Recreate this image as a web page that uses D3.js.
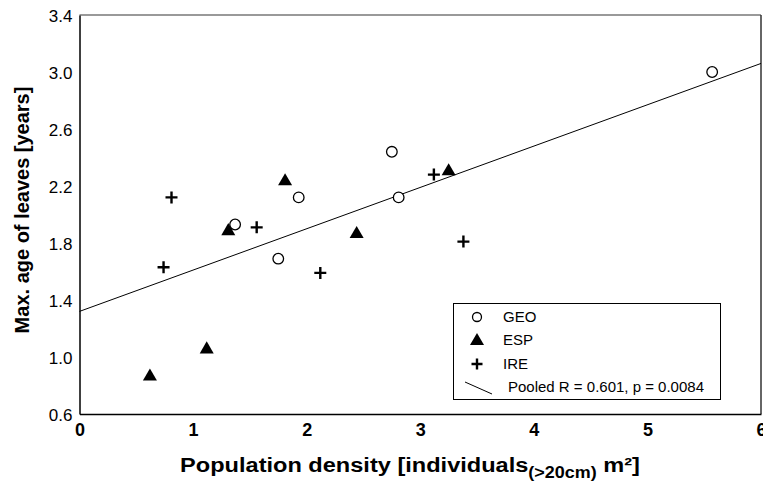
<!DOCTYPE html>
<html>
<head>
<meta charset="utf-8" />
<style>
    body { margin: 0; background: #fff; }
    svg { display: block; }
    .ytick text { font: 17px "Liberation Sans", Arial, sans-serif; fill: #000; }
    .xtick text { font: bold 18px "Liberation Sans Narrow", "Arial Narrow", "Liberation Sans", sans-serif; fill: #000; }
    .legend text { font: 15px "Liberation Sans", Arial, sans-serif; fill: #000; }
</style>
</head>
<body>
<svg width="763" height="484"></svg>
<script src="https://d3js.org/d3.v7.min.js"></script>
<script>
// data: [density, max age]
var geo = [[1.37, 1.93], [1.93, 2.12], [1.75, 1.69], [2.75, 2.44], [2.81, 2.12], [5.57, 3.00]];
var esp = [[0.62, 0.87], [1.12, 1.06], [1.31, 1.89], [1.81, 2.24], [2.44, 1.87], [3.25, 2.31]];
var ire = [[0.81, 2.12], [1.56, 1.91], [0.74, 1.63], [2.12, 1.59], [3.12, 2.28], [3.38, 1.81]];
// pooled regression line, ends read at x = 0 and x = 6
var fitX = [0, 6];
var fitY = [1.32, 3.06];
var xTicks = [0, 1, 2, 3, 4, 5, 6];
var yTicks = [0.6, 1.0, 1.4, 1.8, 2.2, 2.6, 3.0, 3.4];
var legendLabels = ["GEO", "ESP", "IRE", "Pooled R = 0.601, p = 0.0084"];

var svg = d3.select("svg");
var margin = { top: 15, right: 2, bottom: 70, left: 79.5 };
var width = 763 - margin.left - margin.right;
var height = 484 - margin.top - margin.bottom;

var x = d3.scaleLinear().domain([0, 6]).range([margin.left, margin.left + width]);
var y = d3.scaleLinear().domain([0.6, 3.4]).range([margin.top + height, margin.top]);

// frame: top/right grey, left/bottom black
svg.append("line").attr("x1", x(0)).attr("x2", x(6)).attr("y1", y(3.4)).attr("y2", y(3.4))
    .attr("stroke", "#777").attr("stroke-width", 1.5);
svg.append("line").attr("x1", x(6)).attr("x2", x(6)).attr("y1", y(3.4)).attr("y2", y(0.6))
    .attr("stroke", "#333").attr("stroke-width", 1.5);

// axes
var yAxis = svg.append("g").attr("class", "ytick")
    .attr("transform", "translate(" + x(0) + ",0)")
    .call(d3.axisLeft(y).tickValues(yTicks).tickFormat(d3.format(".1f")).tickSize(0).tickPadding(7));
var xAxis = svg.append("g").attr("class", "xtick")
    .attr("transform", "translate(0," + y(0.6) + ")")
    .call(d3.axisBottom(x).tickValues(xTicks).tickFormat(d3.format("d")).tickSize(0).tickPadding(9));
svg.selectAll(".domain").attr("stroke", "#000").attr("stroke-width", 1.5);
yAxis.selectAll("text").attr("dy", "0.4em");

// regression line
svg.append("line")
    .attr("x1", x(fitX[0])).attr("y1", y(fitY[0]))
    .attr("x2", x(fitX[1])).attr("y2", y(fitY[1]))
    .attr("stroke", "#000").attr("stroke-width", 1);

var tri = d3.symbol().type(d3.symbolTriangle).size(85);
function plus(s) { return "M" + (-s) + ",0H" + s + "M0," + (-s) + "V" + s; }

// GEO circles
svg.append("g").selectAll("circle").data(geo).enter().append("circle")
    .attr("cx", d => x(d[0])).attr("cy", d => y(d[1])).attr("r", 5.3)
    .attr("fill", "#fff").attr("stroke", "#000").attr("stroke-width", 1.3);
// ESP triangles
svg.append("g").selectAll("path").data(esp).enter().append("path")
    .attr("d", tri).attr("transform", d => "translate(" + x(d[0]) + "," + (y(d[1]) + 1) + ")")
    .attr("fill", "#000");
// IRE crosses
svg.append("g").selectAll("path").data(ire).enter().append("path")
    .attr("d", plus(6)).attr("transform", d => "translate(" + x(d[0]) + "," + y(d[1]) + ")")
    .attr("stroke", "#000").attr("stroke-width", 2.4).attr("fill", "none");

// legend
var lg = svg.append("g").attr("class", "legend");
lg.append("rect").attr("x", 453.5).attr("y", 303.5).attr("width", 267).attr("height", 96)
    .attr("fill", "#fff").attr("stroke", "#000").attr("stroke-width", 1);
var rows = [317, 340, 364, 387];
lg.append("circle").attr("cx", 477).attr("cy", rows[0]).attr("r", 4.5)
    .attr("fill", "#fff").attr("stroke", "#000").attr("stroke-width", 1.3);
lg.append("path").attr("d", tri).attr("transform", "translate(477," + (rows[1] + 1) + ")").attr("fill", "#000");
lg.append("path").attr("d", plus(5.5)).attr("transform", "translate(477," + rows[2] + ")")
    .attr("stroke", "#000").attr("stroke-width", 2.4);
lg.append("line").attr("x1", 465).attr("y1", 382).attr("x2", 492).attr("y2", 394)
    .attr("stroke", "#000").attr("stroke-width", 1);
lg.selectAll("text.lab").data(legendLabels).enter().append("text")
    .attr("x", (d, i) => i < 3 ? 503 : 508)
    .attr("y", (d, i) => rows[i]).attr("dy", "0.36em")
    .text(d => d);

// axis titles
svg.append("text")
    .attr("transform", "translate(29,210) rotate(-90)")
    .attr("text-anchor", "middle")
    .style("font", "bold 20px 'Liberation Sans', Arial, sans-serif")
    .text("Max. age of leaves [years]");

var cx = 410;
var xt = svg.append("text")
    .attr("x", cx).attr("y", 472)
    .attr("text-anchor", "middle")
    .style("font", "bold 21px 'Liberation Sans Narrow', 'Arial Narrow', 'Liberation Sans', sans-serif");
xt.append("tspan").text("Population density [individuals");
xt.append("tspan").attr("dy", 6).style("font-size", "16px").text("(>20cm)");
xt.append("tspan").attr("dy", -6).text(" m\u00b2]");
// stretch the title to the width it has in the figure
var bw = xt.node().getBBox().width;
var sx = 460 / bw;
xt.attr("transform", "translate(" + cx + ",0) scale(" + sx + ",1) translate(" + (-cx) + ",0)");
</script>
</body>
</html>
